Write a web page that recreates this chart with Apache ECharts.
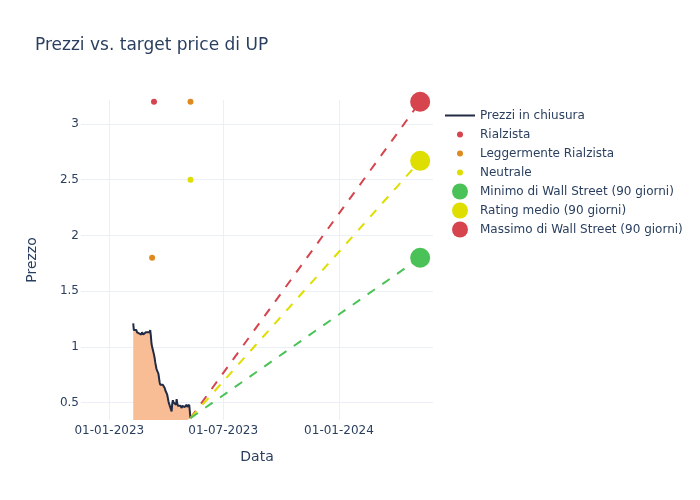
<!DOCTYPE html>
<html><head><meta charset="utf-8">
<script src="https://cdn.jsdelivr.net/npm/echarts@6/dist/echarts.min.js"></script>
<style>html,body{margin:0;padding:0;background:#fff}#c{width:700px;height:500px}</style>
</head><body><div id="c"></div>
<script>
// ---- data ----
const priceDates = [
 '2023-02-08','2023-02-09','2023-02-10','2023-02-13','2023-02-14','2023-02-15','2023-02-16','2023-02-17',
 '2023-02-21','2023-02-22','2023-02-23','2023-02-24','2023-02-27','2023-02-28',
 '2023-03-01','2023-03-02','2023-03-03','2023-03-06','2023-03-07','2023-03-08','2023-03-09','2023-03-10',
 '2023-03-13','2023-03-14','2023-03-15','2023-03-16','2023-03-17','2023-03-20','2023-03-21','2023-03-22',
 '2023-03-23','2023-03-24','2023-03-27','2023-03-28','2023-03-29','2023-03-30','2023-03-31',
 '2023-04-03','2023-04-04','2023-04-05','2023-04-06','2023-04-10','2023-04-11','2023-04-12','2023-04-13',
 '2023-04-14','2023-04-17','2023-04-18','2023-04-19','2023-04-20','2023-04-21','2023-04-24','2023-04-25',
 '2023-04-26','2023-04-27','2023-04-28','2023-05-01','2023-05-02','2023-05-03','2023-05-04','2023-05-05',
 '2023-05-08','2023-05-09','2023-05-10'
];
const priceValues = [
 1.21,1.15,1.14,1.15,1.13,1.14,1.12,1.12,
 1.11,1.13,1.12,1.11,1.12,1.13,
 1.12,1.13,1.12,1.13,1.15,1.10,1.03,1.00,
 0.93,0.90,0.86,0.83,0.80,0.76,0.72,0.68,
 0.66,0.67,0.66,0.67,0.65,0.63,0.61,
 0.57,0.54,0.51,0.49,0.42,0.49,0.52,0.50,
 0.51,0.48,0.53,0.49,0.47,0.48,0.47,0.46,
 0.45,0.47,0.48,0.46,0.45,0.47,0.48,0.46,
 0.48,0.49,0.36
];
const bullishDates = ['2023-03-13'];
const bullishValues = [3.2];
const slightlyBullishDates = ['2023-03-10','2023-05-10'];
const slightlyBullishValues = [1.8, 3.2];
const neutralDates = ['2023-05-10'];
const neutralValues = [2.5];
const targetDate = '2024-05-09';
const targetMin = 1.8;
const targetAvg = 2.67;
const targetMax = 3.2;
const xTickLabels = ['01-01-2023','01-07-2023','01-01-2024'];
const yTickValues = [0.5, 1, 1.5, 2, 2.5, 3];

// ---- chart ----
const FONT = 'DejaVu Sans';
const TXT = '#2a3f5f';
const GRIDC = '#ebf0f8';
const RED = '#d6444d', ORANGE = '#df8a1f', YELLOW = '#dede00', GREEN = '#4bc257';
const zip = (d, v) => d.map((x, i) => [x, v[i]]);
const lastDate = priceDates[priceDates.length - 1];
const lastVal = priceValues[priceValues.length - 1];
const pad = n => (n < 10 ? '0' : '') + n;

// legend icons in a 30x16 box (corner points fix the box size)
const BOX = 'M0,0L0,0M30,16L30,16';
const ICON_LINE = 'path://' + BOX + 'M0,7L30,7L30,9L0,9Z';
const ICON_SMALL = 'path://' + BOX + 'M12,8a3,3 0 1,0 6,0a3,3 0 1,0 -6,0Z';
const ICON_BIG = 'path://' + BOX + 'M7,8a8,8 0 1,0 16,0a8,8 0 1,0 -16,0Z';

const chart = echarts.init(document.getElementById('c'), null, {renderer: 'canvas'});
chart.setOption({
  animation: false,
  backgroundColor: '#fff',
  title: {text: 'Prezzi vs. target price di UP', left: 35, top: 37, padding: 0,
    textStyle: {fontFamily: FONT, fontSize: 17, fontWeight: 'normal', color: TXT}},
  grid: {left: 81, right: 267, top: 100, bottom: 80, containLabel: false},
  legend: {
    orient: 'vertical', left: 445, top: 106, padding: 0, itemGap: 0, itemWidth: 30, itemHeight: 16,
    textStyle: {fontFamily: FONT, fontSize: 12, color: TXT, lineHeight: 19}, selectedMode: false,
    itemStyle: {borderWidth: 0},
    data: [
      {name: 'Prezzi in chiusura', icon: ICON_LINE},
      {name: 'Rialzista', icon: ICON_SMALL},
      {name: 'Leggermente Rialzista', icon: ICON_SMALL},
      {name: 'Neutrale', icon: ICON_SMALL},
      {name: 'Minimo di Wall Street (90 giorni)', icon: ICON_BIG},
      {name: 'Rating medio (90 giorni)', icon: ICON_BIG},
      {name: 'Massimo di Wall Street (90 giorni)', icon: ICON_BIG}
    ]
  },
  xAxis: {
    type: 'time',
    min: +new Date(2022, 10, 17),
    max: +new Date(2024, 4, 29, 10),
    splitNumber: 3,
    name: 'Data', nameLocation: 'middle', nameGap: 30,
    nameTextStyle: {fontFamily: FONT, fontSize: 14, color: TXT},
    axisLine: {show: false}, axisTick: {show: false},
    axisLabel: {fontFamily: FONT, fontSize: 12, color: TXT, margin: 5, showMinLabel: false, showMaxLabel: false,
      formatter: function (v) {
        const d = new Date(v);
        const s = pad(d.getDate()) + '-' + pad(d.getMonth() + 1) + '-' + d.getFullYear();
        return xTickLabels.indexOf(s) >= 0 ? s : '';
      }},
    splitLine: {show: true, showMinLine: false, showMaxLine: false, lineStyle: {color: GRIDC, width: 1}}
  },
  yAxis: {
    type: 'value', min: 0.343, max: 3.216, splitNumber: 6,
    name: 'Prezzo', nameLocation: 'middle', nameGap: 42,
    nameTextStyle: {fontFamily: FONT, fontSize: 14, color: TXT},
    axisLine: {show: false}, axisTick: {show: false},
    axisLabel: {fontFamily: FONT, fontSize: 12, color: TXT, margin: 2, showMinLabel: false, showMaxLabel: false,
      formatter: function (v) {
        return yTickValues.some(t => Math.abs(t - v) < 1e-6) ? String(v) : '';
      }},
    splitLine: {show: true, showMinLine: false, showMaxLine: false, lineStyle: {color: GRIDC, width: 1}}
  },
  series: [
    {name: 'Prezzi in chiusura', type: 'line', data: zip(priceDates, priceValues), showSymbol: false, symbol: 'none',
      color: '#222b45', lineStyle: {color: '#222b45', width: 2},
      areaStyle: {color: '#f9bd96', opacity: 1, origin: 'start'}, z: 2},
    {name: 'line-max', type: 'line', data: [[lastDate, lastVal], [targetDate, targetMax]], symbol: 'none',
      lineStyle: {color: RED, width: 2, type: [9, 9]}, z: 3},
    {name: 'line-avg', type: 'line', data: [[lastDate, lastVal], [targetDate, targetAvg]], symbol: 'none',
      lineStyle: {color: YELLOW, width: 2, type: [9, 9]}, z: 3},
    {name: 'line-min', type: 'line', data: [[lastDate, lastVal], [targetDate, targetMin]], symbol: 'none',
      lineStyle: {color: GREEN, width: 2, type: [9, 9]}, z: 3},
    {name: 'Rialzista', type: 'scatter', data: zip(bullishDates, bullishValues), symbolSize: 6, color: RED, itemStyle: {opacity: 1}, z: 4},
    {name: 'Leggermente Rialzista', type: 'scatter', data: zip(slightlyBullishDates, slightlyBullishValues), symbolSize: 6, color: ORANGE, itemStyle: {opacity: 1}, z: 4},
    {name: 'Neutrale', type: 'scatter', data: zip(neutralDates, neutralValues), symbolSize: 6, color: YELLOW, itemStyle: {opacity: 1}, z: 4},
    {name: 'Minimo di Wall Street (90 giorni)', type: 'scatter', data: [[targetDate, targetMin]], symbolSize: 20, color: GREEN, itemStyle: {opacity: 1}, z: 5},
    {name: 'Rating medio (90 giorni)', type: 'scatter', data: [[targetDate, targetAvg]], symbolSize: 20, color: YELLOW, itemStyle: {opacity: 1}, z: 5},
    {name: 'Massimo di Wall Street (90 giorni)', type: 'scatter', data: [[targetDate, targetMax]], symbolSize: 20, color: RED, itemStyle: {opacity: 1}, z: 5}
  ]
});
</script>
</body></html>
